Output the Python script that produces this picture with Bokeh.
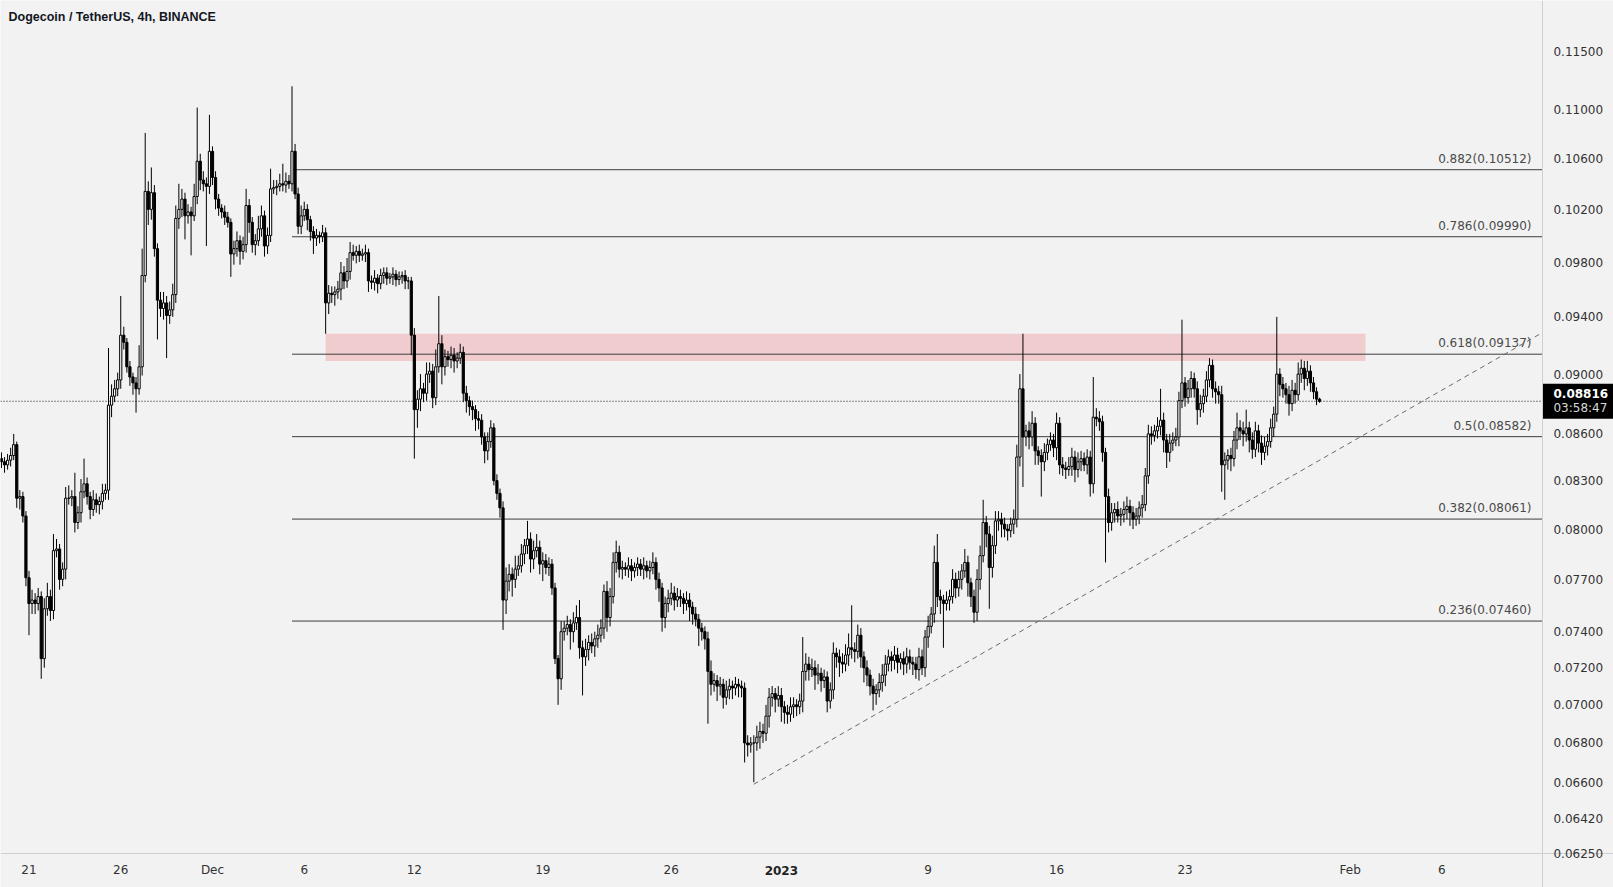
import numpy as np
import pandas as pd
from bokeh.plotting import figure
from bokeh.models import Range1d, FixedTicker, PrintfTickFormatter, Label, ColumnDataSource
from bokeh.embed import file_html
from bokeh.resources import INLINE
from bokeh.core.properties import value

TITLE = "Dogecoin / TetherUS, 4h, BINANCE"
first_bar = "2022-11-19 12:00"
bar_hours = 4
origin = pd.Timestamp("2022-12-01 00:00")

# prices in units of 0.00001
first_open_e5 = 8440
close_e5 = [
    8420, 8400, 8430, 8460, 8530, 8190, 8200, 8080, 7710, 7560,
    7580, 7560, 7600, 7250, 7530, 7600, 7520, 7870, 7880, 7700,
    7760, 8190, 8190, 8200, 8040, 8100, 8230, 8280, 8200, 8120,
    8180, 8150, 8170, 8220, 8240, 8790, 8850, 8900, 8960, 9270,
    9220, 9050, 8980, 8940, 8900, 9050, 9700, 10340, 10200, 10330,
    9900, 9520, 9460, 9500, 9410, 9450, 9560, 10130, 10200, 10280,
    10150, 10180, 10150, 10300, 10580, 10430, 10400, 10380, 10660, 10450,
    10280, 10210, 10180, 10140, 10100, 9860, 9900, 9960, 9880, 9930,
    10230, 10100, 9930, 9960, 10050, 10150, 9920, 10000, 10360, 10370,
    10380, 10400, 10390, 10420, 10400, 10660, 10320, 10070, 10150, 10200,
    10120, 10030, 9980, 10000, 9990, 10020, 9500, 9570, 9560, 9580,
    9600, 9720, 9660, 9730, 9870, 9850, 9880, 9850, 9860, 9870,
    9660, 9650, 9680, 9640, 9700, 9720, 9680, 9690, 9710, 9670,
    9690, 9700, 9660, 9660, 9270, 8760, 8830, 8900, 8870, 9000,
    9020, 8840, 9050, 9210, 9050, 9120, 9100, 9130, 9090, 9110,
    9150, 8870, 8820, 8780, 8760, 8700, 8690, 8580, 8490, 8550,
    8640, 8300, 8220, 8130, 7580, 7690, 7730, 7700, 7760, 7780,
    7850, 7900, 7940, 7820, 7870, 7890, 7790, 7810, 7770, 7790,
    7650, 7250, 7140, 7400, 7420, 7440, 7400, 7450, 7480, 7310,
    7260, 7300, 7340, 7320, 7360, 7380, 7420, 7630, 7480, 7600,
    7800, 7860, 7760, 7770, 7760, 7780, 7750, 7770, 7790, 7760,
    7780, 7750, 7770, 7800, 7700, 7650, 7480, 7560, 7590, 7620,
    7580, 7600, 7590, 7560, 7580, 7540, 7500, 7470, 7420, 7400,
    7360, 7180, 7110, 7130, 7100, 7110, 7040, 7080, 7100, 7090,
    7110, 7100, 7090, 6800, 6790, 6800, 6800, 6830, 6860, 6850,
    6940, 7040, 7060, 7030, 7050, 6990, 6960, 6950, 6990, 7000,
    6990, 7020, 7180, 7220, 7190, 7200, 7160, 7170, 7130, 7150,
    7020, 7080, 7280, 7260, 7230, 7220, 7270, 7310, 7300, 7290,
    7380, 7260, 7200, 7160, 7100, 7060, 7080, 7120, 7160, 7220,
    7260, 7240, 7270, 7230, 7250, 7220, 7260, 7230, 7220, 7190,
    7260, 7200, 7370, 7430, 7500, 7800, 7600, 7580, 7560, 7580,
    7600, 7700, 7650, 7700, 7750, 7800, 7680, 7600, 7510, 7700,
    7840, 8040, 7970, 7770, 7900, 8050, 8060, 8030, 8000, 7990,
    8030, 8060, 8450, 8900, 8580, 8620, 8580, 8670, 8490, 8460,
    8420, 8480, 8530, 8560, 8510, 8670, 8400, 8380, 8370, 8390,
    8450, 8370, 8420, 8440, 8400, 8450, 8280, 8710, 8700, 8680,
    8480, 8200, 8040, 8100, 8120, 8080, 8090, 8120, 8140, 8100,
    8060, 8080, 8130, 8150, 8330, 8600, 8590, 8620, 8650, 8690,
    8560, 8480, 8540, 8560, 8580, 8820, 8940, 8840, 8900, 8970,
    8900, 8760, 8800, 8850, 8960, 9060, 8900, 8880, 8860, 8400,
    8430, 8460, 8440, 8560, 8640, 8620, 8600, 8640, 8560, 8500,
    8620, 8540, 8480, 8520, 8550, 8640, 8730, 9000, 8930, 8900,
    8860, 8800, 8890, 8860, 9000, 9040, 8970, 9020, 8940, 8880,
    8830, 8816,
]
upper_wick_e5 = [
    40, 30, 40, 50, 70, 20, 40, 30, 30, 40,
    60, 40, 50, 30, 60, 80, 40, 100, 60, 30,
    40, 70, 80, 40, 150, 40, 80, 160, 40, 30,
    60, 40, 30, 60, 40, 390, 80, 60, 50, 280,
    60, 30, 40, 30, 40, 150, 200, 470, 80, 200,
    60, 40, 60, 80, 50, 60, 80, 100, 200, 80,
    50, 60, 40, 100, 440, 60, 70, 50, 300, 40,
    50, 40, 30, 50, 40, 30, 60, 70, 40, 60,
    130, 50, 40, 50, 100, 80, 40, 60, 160, 60,
    50, 80, 160, 70, 50, 540, 60, 50, 80, 60,
    40, 30, 40, 50, 30, 60, 40, 60, 50, 40,
    60, 80, 50, 100, 80, 60, 40, 50, 40, 60,
    30, 40, 60, 30, 50, 40, 40, 30, 50, 30,
    40, 30, 40, 30, 30, 50, 60, 100, 40, 80,
    60, 50, 120, 340, 60, 50, 40, 60, 50, 40,
    60, 40, 50, 30, 40, 30, 50, 40, 30, 60,
    50, 30, 40, 30, 40, 80, 60, 40, 80, 60,
    60, 40, 110, 40, 60, 80, 40, 50, 40, 40,
    30, 30, 20, 60, 40, 50, 30, 60, 70, 100,
    40, 60, 40, 50, 40, 60, 50, 40, 60, 50,
    60, 70, 40, 40, 30, 50, 40, 30, 40, 30,
    50, 30, 40, 60, 30, 40, 30, 40, 50, 60,
    40, 50, 40, 30, 50, 40, 30, 40, 30, 30,
    30, 40, 60, 40, 30, 40, 30, 50, 40, 30,
    40, 30, 30, 30, 40, 30, 40, 60, 50, 40,
    60, 50, 40, 30, 50, 40, 30, 40, 50, 40,
    30, 40, 190, 60, 40, 50, 40, 50, 30, 40,
    30, 40, 60, 30, 40, 50, 60, 80, 240, 40,
    60, 40, 30, 40, 30, 40, 30, 50, 60, 50,
    40, 30, 50, 40, 30, 40, 50, 40, 30, 40,
    50, 40, 40, 60, 40, 100, 170, 40, 30, 50,
    40, 60, 40, 50, 40, 80, 40, 30, 40, 60,
    60, 140, 40, 50, 60, 60, 50, 40, 40, 30,
    40, 60, 80, 100, 380, 40, 60, 80, 40, 30,
    40, 60, 40, 50, 40, 70, 40, 50, 40, 60,
    60, 40, 60, 50, 40, 50, 40, 270, 60, 50,
    40, 30, 50, 60, 40, 50, 40, 50, 60, 40,
    40, 50, 40, 60, 50, 60, 50, 40, 60, 210,
    50, 40, 60, 50, 60, 60, 440, 40, 60, 50,
    40, 50, 60, 50, 60, 50, 40, 50, 40, 60,
    50, 40, 50, 60, 100, 50, 60, 120, 40, 50,
    60, 40, 50, 60, 50, 60, 50, 400, 40, 50,
    40, 60, 70, 50, 80, 60, 50, 70, 40, 40,
    30, 10,
]
lower_wick_e5 = [
    40, 50, 30, 40, 30, 60, 70, 40, 50, 180,
    60, 60, 40, 110, 50, 40, 60, 50, 40, 60,
    40, 60, 40, 50, 60, 40, 60, 40, 50, 60,
    40, 50, 60, 50, 40, 60, 80, 40, 50, 60,
    50, 40, 60, 80, 160, 40, 60, 50, 120, 80,
    60, 280, 60, 80, 300, 60, 50, 60, 80, 60,
    180, 60, 300, 40, 60, 80, 60, 460, 60, 60,
    80, 60, 50, 60, 40, 170, 80, 60, 100, 60,
    60, 80, 60, 80, 40, 60, 80, 60, 50, 40,
    60, 40, 50, 60, 40, 60, 40, 60, 60, 40,
    80, 70, 120, 60, 50, 40, 220, 80, 60, 80,
    50, 80, 60, 50, 60, 40, 60, 50, 40, 60,
    80, 50, 60, 70, 40, 60, 50, 40, 60, 50,
    40, 50, 60, 60, 140, 320, 120, 80, 60, 50,
    60, 70, 50, 40, 120, 60, 50, 60, 80, 50,
    40, 60, 80, 60, 70, 80, 60, 50, 80, 60,
    40, 30, 40, 60, 170, 80, 60, 100, 50, 40,
    40, 60, 50, 80, 60, 40, 60, 100, 40, 50,
    40, 30, 140, 60, 50, 40, 100, 60, 40, 60,
    210, 50, 60, 40, 60, 50, 40, 60, 80, 50,
    40, 60, 50, 60, 40, 50, 60, 40, 50, 40,
    60, 40, 50, 40, 60, 80, 80, 60, 50, 40,
    60, 40, 50, 60, 40, 80, 60, 40, 100, 50,
    60, 280, 60, 40, 80, 50, 60, 40, 50, 60,
    40, 60, 50, 100, 60, 40, 200, 40, 60, 50,
    40, 60, 50, 70, 40, 80, 60, 50, 40, 60,
    50, 40, 60, 50, 60, 40, 80, 50, 60, 40,
    60, 40, 50, 60, 80, 50, 40, 60, 50, 60,
    40, 60, 80, 60, 50, 90, 60, 40, 50, 60,
    40, 60, 50, 60, 40, 60, 50, 40, 60, 50,
    60, 40, 50, 60, 40, 50, 60, 80, 250, 40,
    60, 40, 60, 50, 60, 40, 80, 60, 60, 50,
    60, 40, 80, 240, 60, 50, 60, 80, 50, 60,
    40, 60, 50, 60, 320, 60, 80, 60, 90, 60,
    220, 60, 50, 40, 60, 80, 60, 50, 60, 40,
    60, 80, 50, 60, 40, 60, 80, 60, 50, 60,
    60, 400, 60, 50, 60, 40, 60, 50, 60, 80,
    60, 40, 50, 60, 40, 50, 60, 40, 50, 60,
    80, 100, 60, 50, 40, 60, 50, 60, 40, 60,
    60, 100, 50, 60, 40, 50, 60, 80, 60, 170,
    220, 60, 80, 50, 60, 60, 80, 50, 80, 60,
    50, 60, 80, 50, 60, 40, 60, 50, 80, 60,
    60, 80, 50, 60, 40, 60, 80, 50, 60, 50,
    40, 10,
]

tick_dates = ["2022-11-21", "2022-11-26", "2022-12-01", "2022-12-06", "2022-12-12",
              "2022-12-19", "2022-12-26", "2023-01-01", "2023-01-09", "2023-01-16",
              "2023-01-23", "2023-02-01", "2023-02-06"]
tick_labels = ["21", "26", "Dec", "6", "12", "19", "26", "2023", "9", "16", "23", "Feb", "6"]
bold_tick = "2023"

price_ticks = [0.115, 0.110, 0.106, 0.102, 0.098, 0.094, 0.090, 0.086, 0.083, 0.080,
               0.077, 0.074, 0.072, 0.070, 0.068, 0.066, 0.0642, 0.0625]

fib_ratios = [0.882, 0.786, 0.618, 0.5, 0.382, 0.236]
fib_prices = [0.10512, 0.09990, 0.09137, 0.08582, 0.08061, 0.07460]
fib_start = "2022-12-05 08:00"

zone_low, zone_high = 0.0909, 0.0928
zone_start, zone_end = "2022-12-07 04:00", "2023-02-01 20:00"

trend_dates = ["2022-12-30 12:00", "2023-02-11 12:00"]
trend_prices = [0.0659, 0.0929]

last_price = 0.08816
countdown = "03:58:47"

# visible window (days from Dec 1, prices) and the chart's price-scale / time-scale edges
view_days = (-11.553, 76.35)
view_prices = (0.060927, 0.119544)
chart_right_day = 72.48
chart_bottom_price = 0.062522

# ---------------------------------------------------------------
BG = "#f2f2f2"
DAY = pd.Timedelta(days=1)
W, H = 1613, 887


def to_x(ts):
    return (pd.Timestamp(ts) - origin) / DAY


n = len(close_e5)
times = pd.date_range(first_bar, periods=n, freq=f"{bar_hours}h")
x = np.array([(t - origin) / DAY for t in times])
close = np.array(close_e5) / 1e5
opn = np.concatenate([[first_open_e5 / 1e5], close[:-1]])
top = np.maximum(opn, close)
bot = np.minimum(opn, close)
high = top + np.array(upper_wick_e5) / 1e5
low = bot - np.array(lower_wick_e5) / 1e5
up = close >= opn
bar_w = bar_hours / 24 * 0.72

src = ColumnDataSource(dict(x=x, top=top, bot=bot, high=high, low=low,
                            fill=np.where(up, "#ffffff", "#000000")))

p = figure(frame_width=W, frame_height=H,
           x_range=Range1d(*view_days), y_range=Range1d(*view_prices),
           y_axis_type="log", y_axis_location="right",
           output_backend="svg", toolbar_location=None,
           min_border=0, min_border_left=0, min_border_top=0,
           min_border_right=0, min_border_bottom=0,
           background_fill_color=BG, border_fill_color=BG, outline_line_color=None)
p.grid.visible = False

# zone
p.quad(left=[to_x(zone_start)], right=[to_x(zone_end)], bottom=[zone_low], top=[zone_high],
       fill_color="#f23645", fill_alpha=0.2, line_color=None)

# fib levels
x_end = chart_right_day
fx0 = to_x(fib_start)
p.segment(x0=[fx0] * len(fib_prices), y0=fib_prices, x1=[x_end] * len(fib_prices), y1=fib_prices,
          line_color="#3d3d3d", line_width=1)
fib_text = [f"{r}({v:.5f})" for r, v in zip(fib_ratios, fib_prices)]
p.text(x=[x_end] * len(fib_prices), y=fib_prices, text=fib_text, x_offset=-11, y_offset=-4,
       text_align="right", text_baseline="bottom", text_font=value("DejaVu Sans"),
       text_font_size="12px", text_color="#4a4a4a")

# trend line
p.line(x=[to_x(d) for d in trend_dates], y=trend_prices, line_color="#6b6b6b",
       line_width=1, line_dash="5 4")

# last price dotted line (chart area only)
p.segment(x0=[view_days[0]], y0=[last_price], x1=[x_end], y1=[last_price],
          line_color="#111111", line_width=1, line_dash="1 2")

# candles
p.segment(x0="x", y0="low", x1="x", y1="high", source=src, line_color="#000000", line_width=1)
p.vbar(x="x", width=bar_w, top="top", bottom="bot", source=src,
       fill_color="fill", line_color="#000000", line_width=1)

# axes (fixed at the chart's edges, so they sit inside the page like the reference)
yax = p.yaxis[0]
yax.fixed_location = chart_right_day
yax.ticker = FixedTicker(ticks=price_ticks, minor_ticks=[])
yax.formatter = PrintfTickFormatter(format="%.5f")
yax.major_tick_line_color = None
yax.minor_tick_line_color = None
yax.major_tick_out = 0
yax.major_tick_in = 0
yax.axis_line_color = "#cfcfcf"
yax.major_label_text_font = "DejaVu Sans"
yax.major_label_text_font_size = "12px"
yax.major_label_text_color = "#333333"
yax.major_label_standoff = 11

tick_x = [int(round(to_x(d))) for d in tick_dates]
xax = p.xaxis[0]
xax.fixed_location = chart_bottom_price
xax.ticker = FixedTicker(ticks=tick_x, minor_ticks=[])
xax.major_label_overrides = {t: ("" if lab == bold_tick else lab) for t, lab in zip(tick_x, tick_labels)}
xax.major_tick_line_color = None
xax.minor_tick_line_color = None
xax.major_tick_out = 0
xax.major_tick_in = 0
xax.axis_line_color = "#cfcfcf"
xax.major_label_text_font = "DejaVu Sans"
xax.major_label_text_font_size = "12px"
xax.major_label_text_color = "#333333"
xax.major_label_standoff = 10

for t, lab in zip(tick_x, tick_labels):
    if lab == bold_tick:
        p.add_layout(Label(x=t, y=17, x_units="data", y_units="screen", text=lab,
                           text_align="center", text_baseline="middle",
                           text_font="DejaVu Sans", text_font_size="12px",
                           text_font_style="bold", text_color="#222222"))

# title
p.add_layout(Label(x=8, y=H - 16, x_units="screen", y_units="screen", text=TITLE,
                   text_font="Liberation Sans", text_font_size="12.5px", text_font_style="bold",
                   text_baseline="middle", text_color="#131722"))

# last price tag on the price scale
tag_mid = (chart_right_day + view_days[1]) / 2
p.rect(x=[tag_mid], y=[last_price], width=[view_days[1] - chart_right_day], height=[35],
       height_units="screen", fill_color="#000000", line_color=None)
p.text(x=[chart_right_day, chart_right_day], y=[last_price, last_price],
       text=[f"{last_price:.5f}", countdown], x_offset=11, y_offset=[-8, 7],
       text_align="left", text_baseline="middle", text_font=value("DejaVu Sans"),
       text_font_size="12px", text_font_style=["bold", "normal"],
       text_color=["#ffffff", "#d8d8d8"])

open("out.html", "w").write(file_html(p, INLINE))
